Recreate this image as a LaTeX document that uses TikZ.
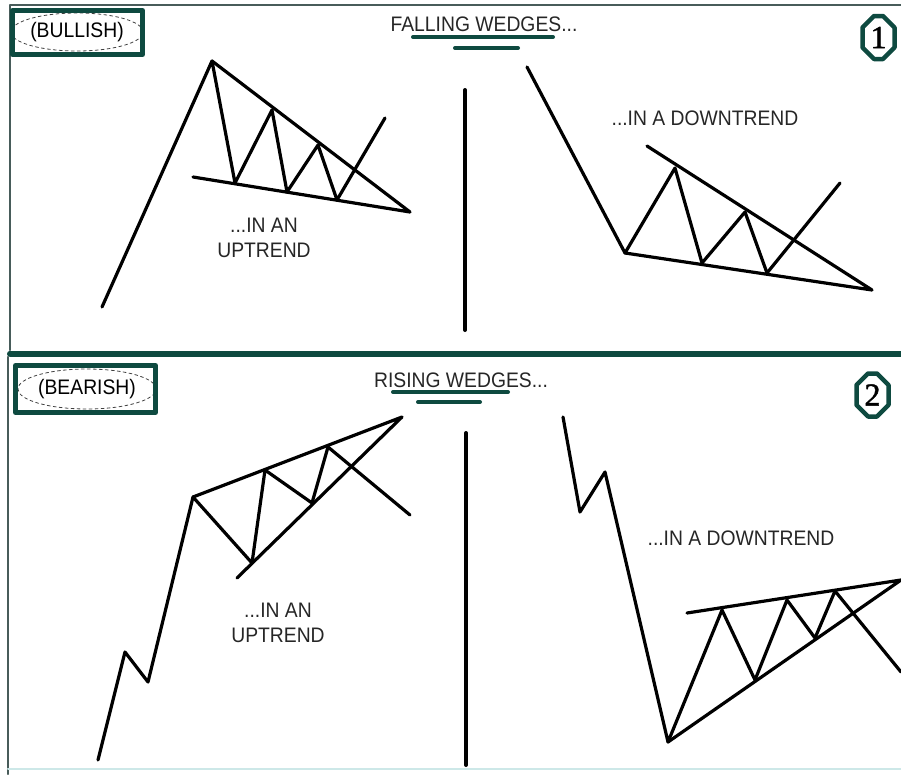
\documentclass[tikz,border=0pt]{standalone}
\usepackage{fontspec}
\setmainfont{Liberation Sans}[FakeStretch=0.92]
\newfontfamily\digitfont{Liberation Serif}[FakeBold=1.5]
\usetikzlibrary{shapes.geometric,shapes.misc}
\definecolor{wedgegreen}{RGB}{14,74,64}
\definecolor{framegrey}{RGB}{72,92,90}
\definecolor{palecyan}{RGB}{205,232,232}

\begin{document}
\begin{tikzpicture}[x=1pt, y=-1pt, line cap=round, line join=round,
    price/.style={line width=3.2pt, black},
    label/.style={font=\fontsize{21}{25}\selectfont, text=black!85, align=center, inner sep=0pt},
    tagbox/.style={draw=wedgegreen, line width=5pt, line cap=butt},
    tagoval/.style={ellipse, draw=black!75, dashed, line width=0.8pt, inner sep=0pt,
        font=\fontsize{21}{22}\selectfont},
    numtag/.style={chamfered rectangle, draw=wedgegreen, line width=4.5pt, inner sep=0pt,
        chamfered rectangle xsep=8pt, minimum width=31pt, minimum height=43pt,
        font=\digitfont\fontsize{32}{32}\selectfont},
    underbar/.style={draw=wedgegreen, line width=4pt}]
    \useasboundingbox (0,0) rectangle (901,774);
    % Cadre
    \draw[framegrey, line width=2.5pt] (10,350) -- (10,5) -- (901,5);
    \draw[framegrey, line width=2.5pt] (8,357) -- (8,774);
    \draw[wedgegreen, line width=6pt] (10,353.5) -- (901,353.5);
    \draw[palecyan, line width=2pt] (8,769) -- (901,769);
    % Separateurs
    \draw[line width=4pt] (465,90) -- (465,330);
    \draw[line width=4pt] (466,433) -- (466,765);

    % Falling wedges
    \node[label] (fallTitle) at (484,24) {FALLING WEDGES...};
    \draw[underbar] (413,37) -- (553,37);
    \draw[underbar] (455,48) -- (518,48);
    \node[tagoval, minimum width=120pt, minimum height=38pt] (bullTag) at (77,32) {(BULLISH)};
    \draw[tagbox] (12.5,10.5) rectangle (142.5,54.5);
    \node[numtag] (numOne) at (878.5,37.5) {1};
    % ... en tendance haussiere
    \draw[price] (102,307) -- (212,61) -- (235,183) -- (272,110) -- (287,192)
        -- (318,145) -- (337,200) -- (385,118);
    \draw[price] (212,61) -- (410,212) -- (193,177);
    \node[label] (fallUp) at (264,238) {...IN AN\\UPTREND};
    % ... en tendance baissiere
    \draw[price] (527,67) -- (625,253) -- (675,168) -- (702,263) -- (745,212)
        -- (767,273) -- (840,183);
    \draw[price] (647,146) -- (872,290) -- (625,253);
    \node[label] (fallDown) at (705,118) {...IN A DOWNTREND};

    % Rising wedges
    \node[label] (riseTitle) at (461,380) {RISING WEDGES...};
    \draw[underbar] (393,392) -- (508,392);
    \draw[underbar] (418,402) -- (480,402);
    \node[tagoval, minimum width=130pt, minimum height=40pt] (bearTag) at (87,389) {(BEARISH)};
    \draw[tagbox] (15.5,365.5) rectangle (155.5,412.5);
    \node[numtag] (numTwo) at (872.5,395) {2};
    % ... en tendance haussiere
    \draw[price] (98,760) -- (125,652) -- (148,682) -- (193,497) -- (252,563)
        -- (265,470) -- (312,503) -- (328,447) -- (410,515);
    \draw[price] (193,497) -- (402,417) -- (237,578);
    \node[label] (riseUp) at (278,623) {...IN AN\\UPTREND};
    % ... en tendance baissiere
    \draw[price] (563,417) -- (580,512) -- (605,472) -- (668,742) -- (722,610)
        -- (755,680) -- (787,600) -- (815,638) -- (835,591) -- (901,672);
    \draw[price] (687,613) -- (901,580) -- (668,742);
    \node[label] (riseDown) at (741,538) {...IN A DOWNTREND};
\end{tikzpicture}
\end{document}
